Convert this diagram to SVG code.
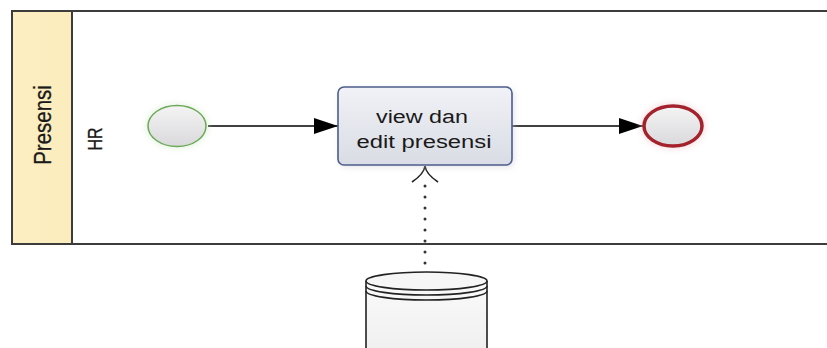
<svg xmlns="http://www.w3.org/2000/svg" width="827" height="348" viewBox="0 0 827 348">
  <defs>
    <linearGradient id="poolFill" x1="0" y1="0" x2="1" y2="0">
      <stop offset="0" stop-color="#fdefc3"/>
      <stop offset="1" stop-color="#fbecbd"/>
    </linearGradient>
    <linearGradient id="eventFill" x1="0" y1="0" x2="0" y2="1">
      <stop offset="0" stop-color="#f4f4f4"/>
      <stop offset="1" stop-color="#d9d9dc"/>
    </linearGradient>
    <linearGradient id="taskFill" x1="0" y1="0" x2="0" y2="1">
      <stop offset="0" stop-color="#f1f2f7"/>
      <stop offset="1" stop-color="#d9dce4"/>
    </linearGradient>
    <linearGradient id="storeFill" x1="0" y1="0" x2="0" y2="1">
      <stop offset="0" stop-color="#fafafa"/>
      <stop offset="1" stop-color="#eeeeee"/>
    </linearGradient>
    <filter id="soft" x="-30%" y="-30%" width="160%" height="160%">
      <feGaussianBlur stdDeviation="3"/>
    </filter>
    <marker id="flowArrow" viewBox="0 0 24 16" refX="24" refY="8" markerWidth="24" markerHeight="16" markerUnits="userSpaceOnUse" orient="auto">
      <path d="M0,0 L24,8 L0,16 Z" fill="#000"/>
    </marker>
    <style>
      .lbl { font-family: "Liberation Sans", Arial, sans-serif; fill: #1a1a1a; }
      .side { stroke: #161616; stroke-width: 0.25; }
      .pool { stroke: #3c3c3c; stroke-width: 2; }
      .flow { stroke: #000; stroke-width: 1.3; fill: none; }
      .assoc { stroke: #333; stroke-width: 3; stroke-dasharray: 0 11; stroke-linecap: round; fill: none; }
    </style>
  </defs>

  <!-- pool with its label band and lane -->
  <g id="pool">
    <rect x="12" y="11" width="830" height="233" fill="#ffffff" class="pool"/>
    <rect x="12" y="11" width="60" height="233" fill="url(#poolFill)" class="pool"/>
    <text class="lbl side" font-size="20.5" transform="translate(51,125) scale(1.2,1) rotate(-90)" text-anchor="middle">Presensi</text>
    <text class="lbl side" font-size="16" transform="translate(102,139) scale(1.22,1) rotate(-90)" text-anchor="middle">HR</text>
  </g>

  <!-- connectors -->
  <g id="connectors">
    <line x1="208" y1="126" x2="338" y2="126" class="flow" marker-end="url(#flowArrow)"/>
    <line x1="512" y1="126" x2="643" y2="126" class="flow" marker-end="url(#flowArrow)"/>
    <line x1="425" y1="186" x2="425" y2="264" class="assoc"/>
    <path d="M412,182 Q424,174 425,166 Q426,174 438,182" fill="none" stroke="#222" stroke-width="1.6"/>
  </g>

  <!-- start event -->
  <g id="start">
    <ellipse cx="177" cy="126" rx="31" ry="22" fill="#cfe8c4" opacity="0.6" filter="url(#soft)"/>
    <ellipse cx="177" cy="126" rx="29" ry="20.5" fill="url(#eventFill)" stroke="#6aa956" stroke-width="1.5"/>
  </g>

  <!-- task -->
  <g id="task">
    <rect x="340" y="89" width="174" height="78" rx="6" fill="#c8c8d0" opacity="0.5" filter="url(#soft)"/>
    <rect x="338" y="87" width="174" height="78" rx="6" fill="url(#taskFill)" stroke="#4d5d8c" stroke-width="1.6"/>
    <text class="lbl" font-size="18" x="422" y="123" text-anchor="middle" textLength="92" lengthAdjust="spacingAndGlyphs">view dan</text>
    <text class="lbl" font-size="18" x="424" y="148" text-anchor="middle" textLength="135" lengthAdjust="spacingAndGlyphs">edit presensi</text>
  </g>

  <!-- end event -->
  <g id="end">
    <ellipse cx="673" cy="126" rx="32" ry="23" fill="#f0c8cc" opacity="0.6" filter="url(#soft)"/>
    <ellipse cx="673" cy="126" rx="29" ry="20" fill="url(#eventFill)" stroke="#a4222c" stroke-width="3.5"/>
  </g>

  <!-- data store -->
  <g id="datastore">
    <path d="M366,281 L366,360 L487,360 L487,281" fill="url(#storeFill)" stroke="#222" stroke-width="1.6"/>
    <ellipse cx="426.5" cy="281" rx="60.5" ry="9" fill="#f6f6f6" stroke="#222" stroke-width="1.6"/>
    <path d="M366,286 A60.5,9 0 0 0 487,286" fill="none" stroke="#222" stroke-width="1.6"/>
    <path d="M366,291 A60.5,9 0 0 0 487,291" fill="none" stroke="#222" stroke-width="1.6"/>
  </g>
</svg>
